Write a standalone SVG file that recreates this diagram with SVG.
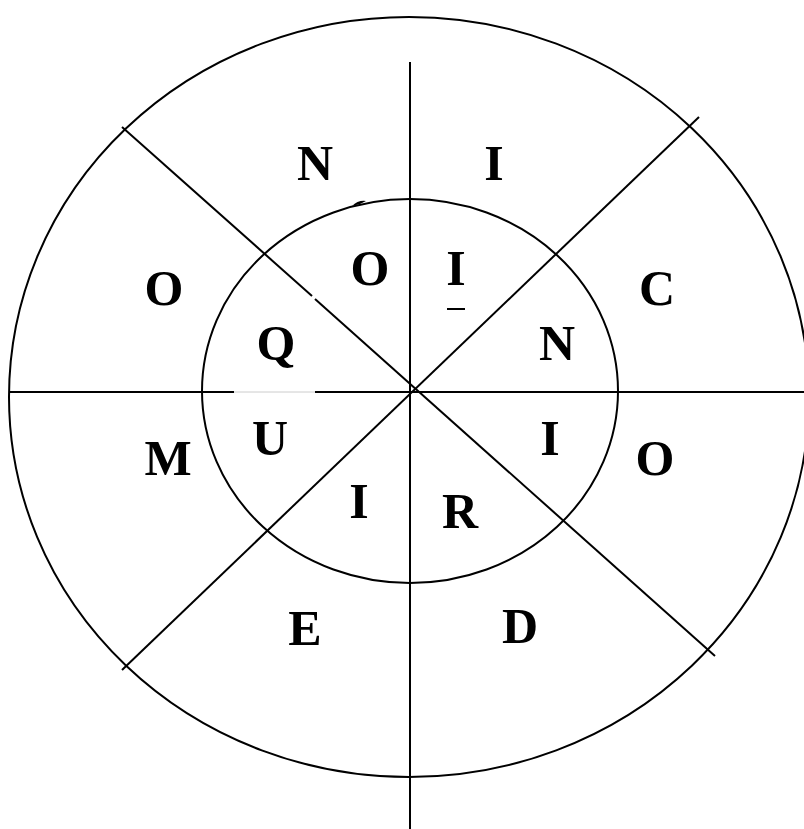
<svg xmlns="http://www.w3.org/2000/svg" width="804" height="829" viewBox="0 0 804 829">
<style>
.ln{stroke:#000;stroke-width:2;fill:none}
.lt{font-family:"Liberation Serif","Times New Roman",serif;font-weight:bold;font-size:50px;fill:#000;text-anchor:middle}
</style>
<rect width="804" height="829" fill="#fff"/>
<g id="shapes">
<ellipse id="outer" class="ln" cx="409" cy="397" rx="400" ry="380"/>
<ellipse id="inner" class="ln" cx="410" cy="391" rx="208" ry="192"/>
</g>
<g id="connectors">
<line class="ln" x1="410" y1="62" x2="410" y2="829"/>
<line class="ln" x1="10" y1="392" x2="234" y2="392"/>
<line x1="234" y1="392" x2="315" y2="392" stroke="#ccc" stroke-width="1"/>
<line class="ln" x1="315" y1="392" x2="804" y2="392"/>
<line class="ln" x1="122" y1="127" x2="312" y2="296"/>
<line class="ln" x1="315" y1="299" x2="715" y2="656"/>
<line class="ln" x1="699" y1="117" x2="122" y2="670"/>
<path d="M352,206 Q358,200 366,201 L360,204 Z" fill="#000"/>
</g>
<g id="labels">
<g id="t-N1"><text class="lt" x="315" y="180">N</text></g>
<g id="t-I1"><text class="lt" x="494" y="180">I</text></g>
<g id="t-O1"><text class="lt" x="164" y="305">O</text></g>
<g id="t-O2"><text class="lt" x="370" y="285">O</text></g>
<g id="t-I2"><text class="lt" x="456" y="285">I</text><line x1="447" y1="309" x2="465" y2="309" stroke="#000" stroke-width="2"/></g>
<g id="t-C"><text class="lt" x="657" y="305">C</text></g>
<g id="t-Q"><text class="lt" x="276" y="360">Q</text></g>
<g id="t-N2"><text class="lt" x="557" y="360">N</text></g>
<g id="t-U"><text class="lt" x="270" y="455">U</text></g>
<g id="t-M"><text class="lt" x="168" y="475">M</text></g>
<g id="t-I3"><text class="lt" x="550" y="455">I</text></g>
<g id="t-O3"><text class="lt" x="655" y="475">O</text></g>
<g id="t-I4"><text class="lt" x="359" y="518">I</text></g>
<g id="t-R"><text class="lt" x="460" y="528">R</text></g>
<g id="t-E"><text class="lt" x="305" y="645">E</text></g>
<g id="t-D"><text class="lt" x="520" y="643">D</text></g>
</g>
</svg>
